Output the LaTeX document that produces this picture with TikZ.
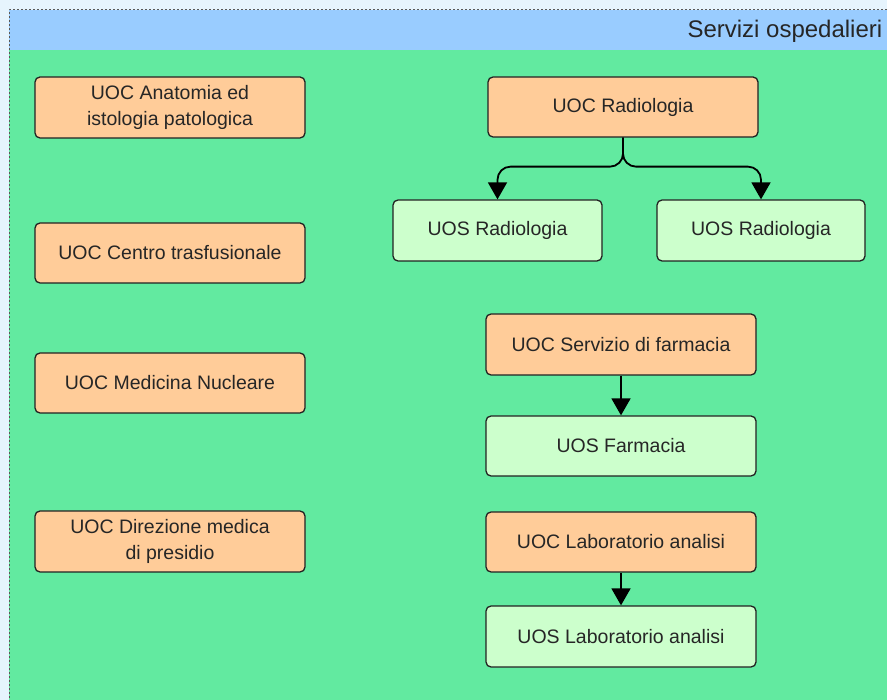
\documentclass[tikz,border=0pt]{standalone}
\usepackage{fontspec}
\setmainfont{Liberation Sans}
\usetikzlibrary{arrows.meta}
\definecolor{outerbg}{HTML}{E6F4FD}
\definecolor{bandblue}{HTML}{99CCFF}
\definecolor{poolgreen}{HTML}{62EAA0}
\definecolor{uocfill}{HTML}{FFCC99}
\definecolor{uosfill}{HTML}{CCFFCC}
\definecolor{edgegray}{HTML}{222222}
\tikzset{
  unit/.style={draw=edgegray, line width=1.3pt, rounded corners=5pt, align=center,
    font=\fontsize{19.5}{26}\selectfont, text=black!85, inner sep=0pt},
  uoc/.style={unit, fill=uocfill},
  uos/.style={unit, fill=uosfill},
  link/.style={draw=black, line width=1.8pt, -{Triangle[length=17pt,width=19pt]}},
}
\begin{document}
\begin{tikzpicture}[x=1pt,y=-1pt]
\useasboundingbox (0,0) rectangle (887,700);
\fill[outerbg] (0,0) rectangle (887,700);
% pool with title band
\fill[poolgreen] (9,50) rectangle (900,710);
\fill[bandblue] (9,10) rectangle (900,50);
\draw[gray!70!black, dashed, dash pattern=on 2pt off 2pt, line width=1pt] (9,710) -- (9,10) -- (900,10);
\node[anchor=west, font=\fontsize{24}{28}\selectfont, text=black!85] (title) at (684,31) {Servizi ospedalieri};

% left column
\node[uoc, minimum width=270, minimum height=61] (anat) at (170,107.5) {UOC Anatomia ed\\istologia patologica};
\node[uoc, minimum width=270, minimum height=60] (trasf) at (170,253) {UOC Centro trasfusionale};
\node[uoc, minimum width=270, minimum height=60] (nucl) at (170,383) {UOC Medicina Nucleare};
\node[uoc, minimum width=270, minimum height=61] (direz) at (170,541.5) {UOC Direzione medica\\di presidio};

% right column
\node[uoc, minimum width=270, minimum height=60] (radC) at (623,107) {UOC Radiologia};
\node[uos, minimum width=209, minimum height=61] (radL) at (497.5,230.5) {UOS Radiologia};
\node[uos, minimum width=208, minimum height=61] (radR) at (761,230.5) {UOS Radiologia};
\node[uoc, minimum width=270, minimum height=61] (farmC) at (621,344.5) {UOC Servizio di farmacia};
\node[uos, minimum width=270, minimum height=60] (farmS) at (621,446) {UOS Farmacia};
\node[uoc, minimum width=270, minimum height=60] (labC) at (621,542) {UOC Laboratorio analisi};
\node[uos, minimum width=270, minimum height=61] (labS) at (621,636.5) {UOS Laboratorio analisi};

% connectors
\coordinate (fork) at ([yshift=-29pt]radC.south);
\draw[link, rounded corners=13pt] (radC.south) -- (fork) -| (radL.north);
\draw[link, rounded corners=13pt] (radC.south) -- (fork) -| (radR.north);
\draw[link] (farmC) -- (farmS);
\draw[link] (labC) -- (labS);
\end{tikzpicture}
\end{document}
